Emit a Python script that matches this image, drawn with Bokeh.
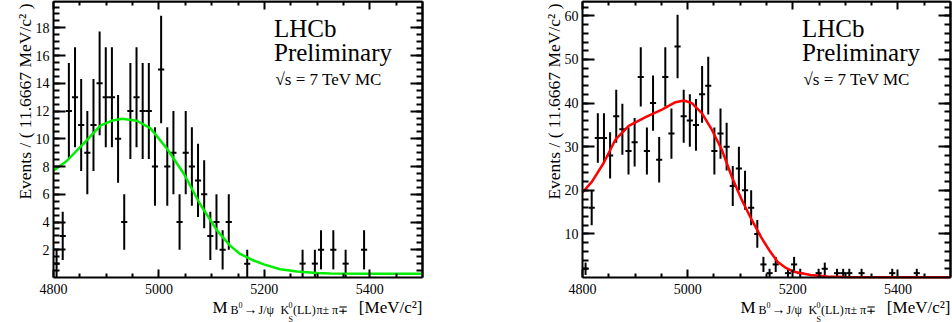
import math
from bokeh.plotting import figure
from bokeh.models import FixedTicker, LinearAxis, Label, Range1d
from bokeh.layouts import row
from bokeh.embed import file_html
from bokeh.resources import INLINE

# ---------------- data ----------------
MASS_LOW = 4800.0
MASS_HIGH = 5500.0
NBINS = 60

left_counts = [1, 3, 12, 13, 11, 9, 11, 14, 13, 13,
               10, 4, 12, 13, 12, 12, 8, 15, 8, 9,
               4, 9, 8, 7, 6, 3, 4, 2, 4, 0,
               0, 1, 0, 0, 0, 0, 0, 0, 0, 0,
               1, 0, 1, 2, 0, 2, 0, 1, 0, 0,
               2, 0, 0, 0, 0, 0, 0, 0, 0, 0]

right_counts = [2, 16, 32, 32, 28, 37, 34, 29, 31, 46,
                29, 40, 27, 46, 33, 53, 37, 36, 35, 42,
                44, 29, 33, 30, 21, 25, 20, 16, 10, 3,
                1, 3, 0, 1, 3, 1, 0, 0, 1, 2,
                0, 1, 1, 1, 0, 1, 0, 0, 0, 0,
                1, 0, 0, 0, 1, 0, 0, 0, 0, 0]

left_fit_mass = [4800, 4825, 4857, 4889, 4910, 4930, 4958, 4984, 5015, 5047,
                 5078, 5110, 5135, 5154, 5175, 5199, 5230, 5262, 5300, 5325,
                 5400, 5500]
left_fit_val = [7.7, 8.4, 9.65, 10.95, 11.3, 11.45, 11.3, 10.75, 9.3, 7.5,
                5.3, 3.4, 2.3, 1.7, 1.3, 0.95, 0.6, 0.43, 0.32, 0.28,
                0.27, 0.27]

right_fit_mass = [4800, 4818, 4840, 4863, 4888, 4920, 4951, 4977, 4993, 5008,
                  5027, 5046, 5065, 5084, 5103, 5122, 5140, 5155, 5171, 5187,
                  5202, 5234, 5266, 5300, 5400, 5500]
right_fit_val = [19.5, 22.0, 26.2, 31.7, 34.8, 36.8, 38.5, 40.2, 40.6, 40.0,
                 37.7, 33.9, 29.3, 23.1, 17.8, 13.2, 9.2, 6.3, 3.6, 2.2,
                 1.3, 0.55, 0.25, 0.12, 0.08, 0.08]

x_tick_labels = [4800, 5000, 5200, 5400]
x_minor_ticks = [4850, 4900, 4950, 5050, 5100, 5150, 5250, 5300, 5350, 5450]
left_y_ticks = [2, 4, 6, 8, 10, 12, 14, 16, 18]
left_y_minor = [k * 0.5 for k in range(1, 40)]
right_y_ticks = [10, 20, 30, 40, 50, 60]
right_y_minor = [k * 2 for k in range(1, 32)]

Y_TITLE = "Events / ( 11.6667 MeV/c\u00b2 )"
FONT = "Liberation Serif"

# ---------------- layout constants (pixels) ----------------
FIG_W, FIG_H = 476, 322
INNER_TOP, INNER_BOTTOM = 1, 277


def axis(loc, ticks, minor, major_in, minor_in, standoff):
    ax = LinearAxis(fixed_location=loc[0], bounds=loc[1])
    ax.ticker = FixedTicker(ticks=ticks, minor_ticks=minor)
    ax.axis_line_width = 2
    ax.axis_line_color = "black"
    ax.major_tick_in = major_in
    ax.major_tick_out = 0
    ax.minor_tick_in = minor_in
    ax.minor_tick_out = 0
    ax.major_tick_line_width = 2
    ax.minor_tick_line_width = 2
    ax.major_tick_line_color = "black"
    ax.minor_tick_line_color = "black"
    ax.major_label_text_font = FONT
    ax.major_label_text_color = "black"
    ax.major_label_text_font_size = "14px"
    ax.major_label_standoff = standoff
    return ax


def lab(p, text, x, y, xo, yo, size, align="left", angle=0.0):
    p.add_layout(Label(x=x, y=y, x_offset=xo, y_offset=yo, text=text,
                       text_font=FONT, text_font_size=size, text_color="black",
                       text_align=align, text_baseline="alphabetic", angle=angle))


def panel(counts, fit_x, fit_y, color, ymax, yticks, yminor, inner_l, inner_r):
    sx = (MASS_HIGH - MASS_LOW) / (inner_r - inner_l)
    sy = ymax / (INNER_BOTTOM - INNER_TOP)
    xr = Range1d(MASS_LOW - inner_l * sx, MASS_HIGH + (FIG_W - inner_r) * sx)
    yr = Range1d(-(FIG_H - INNER_BOTTOM) * sy, ymax + INNER_TOP * sy)
    p = figure(width=FIG_W, height=FIG_H, output_backend="svg", toolbar_location=None,
               x_range=xr, y_range=yr, x_axis_location=None, y_axis_location=None,
               min_border=0)
    p.grid.visible = False
    p.outline_line_color = None
    p.background_fill_color = "white"
    p.border_fill_color = "white"

    xb = (MASS_LOW, MASS_HIGH)
    yb = (0, ymax)
    # main axes with labels
    p.add_layout(axis((0, xb), x_tick_labels, x_minor_ticks, 8, 4, 6), "below")
    p.add_layout(axis((MASS_LOW, yb), yticks, yminor, 12, 6, 4), "left")
    # mirrored axes (ticks only): short ticks + long ticks overlaid
    p.add_layout(axis((ymax, xb), [], x_minor_ticks, 0, 4, 0), "above")
    p.add_layout(axis((ymax, xb), [], x_tick_labels, 0, 8, 0), "above")
    p.add_layout(axis((MASS_HIGH, yb), [], yminor, 0, 6, 0), "right")
    p.add_layout(axis((MASS_HIGH, yb), [], yticks, 0, 12, 0), "right")

    w = (MASS_HIGH - MASS_LOW) / NBINS
    xc, yv, lo, hi, x0, x1 = [], [], [], [], [], []
    for i, c in enumerate(counts):
        if c <= 0:
            continue
        cx = MASS_LOW + w * (i + 0.5)
        e = math.sqrt(c)
        xc.append(cx); yv.append(c); lo.append(c - e); hi.append(c + e)
        x0.append(cx - w / 2); x1.append(cx + w / 2)
    p.segment(x0=xc, y0=lo, x1=xc, y1=hi, line_color="black", line_width=2)
    p.segment(x0=x0, y0=yv, x1=x1, y1=yv, line_color="black", line_width=2)

    p.line(fit_x, fit_y, line_color=color, line_width=2.5)

    # LHCb text
    lab(p, "LHCb", MASS_HIGH, ymax, -148.5, -27, "25px")
    lab(p, "Preliminary", MASS_HIGH, ymax, -148.5, -51, "25px")
    lab(p, "\u221as = 7 TeV MC", MASS_HIGH, ymax, -147, -78, "17px")

    # y title
    lab(p, Y_TITLE, MASS_LOW, ymax, -29, -2, "17.5px", align="right", angle=math.pi / 2)

    # x title
    lab(p, "M", MASS_HIGH, 0, -210, -30, "17px")
    lab(p, "B", MASS_HIGH, 0, -192, -32, "12px")
    lab(p, "0", MASS_HIGH, 0, -184, -27, "8px")
    lab(p, "\u2192", MASS_HIGH, 0, -179, -32, "14px")
    lab(p, "J/\u03c8", MASS_HIGH, 0, -164, -32, "12px")
    lab(p, "K", MASS_HIGH, 0, -142, -32, "12px")
    lab(p, "0", MASS_HIGH, 0, -134, -27, "8px")
    lab(p, "S", MASS_HIGH, 0, -134, -41.5, "8px")
    lab(p, "(LL)", MASS_HIGH, 0, -129.5, -32, "12px")
    lab(p, "\u03c0\u00b1", MASS_HIGH, 0, -106, -32, "12px")
    lab(p, "\u03c0\u2213", MASS_HIGH, 0, -90.5, -32, "12px")
    lab(p, "[MeV/c\u00b2]", MASS_HIGH, 0, 0, -30, "17px", align="right")
    return p


p1 = panel(left_counts, left_fit_mass, left_fit_val, "#00ee00", 19.9,
           left_y_ticks, left_y_minor, 53, 422)
p2 = panel(right_counts, right_fit_mass, right_fit_val, "#ff0000", 63.3,
           right_y_ticks, right_y_minor, 106, 474)

layout = row(p1, p2)
open("out.html", "w").write(file_html(layout, INLINE))
